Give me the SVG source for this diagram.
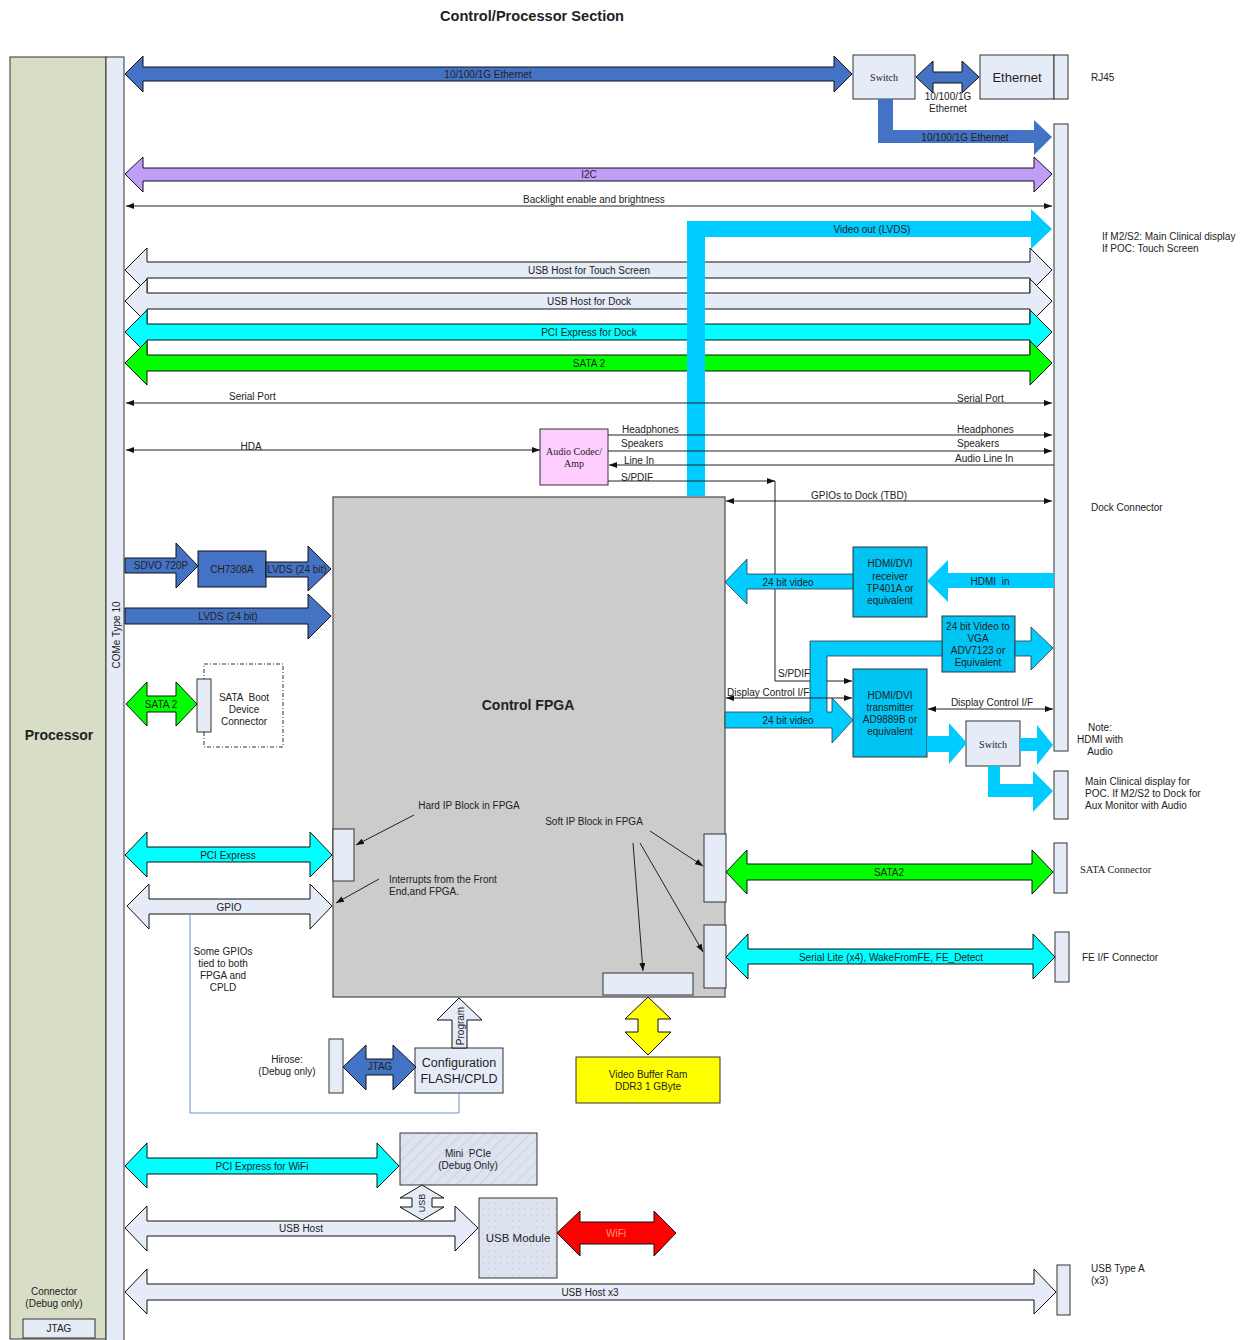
<svg xmlns="http://www.w3.org/2000/svg" width="1248" height="1340" viewBox="0 0 1248 1340" xml:space="preserve">
<defs>
<style>
text{font-family:"Liberation Sans",Arial,sans-serif;font-size:10px;fill:#222;dominant-baseline:central;white-space:pre}
.m{text-anchor:middle}
.s{text-anchor:start}
.b{font-weight:bold;font-size:14px}
.serif{font-family:"Liberation Serif","Times New Roman",serif}
.ln{fill:none;stroke:#222;stroke-width:1}
.blk{stroke:#111;stroke-width:1}
.pale{fill:#e6ecf7}
.blue{fill:#4472c4}
.cyan{fill:#00ffff}
.sky{fill:#00ccff}
.green{fill:#00ff00}
.ol{stroke:#333;stroke-width:0.8}
</style>
<marker id="ah" viewBox="0 0 8 6" refX="8" refY="3" markerWidth="8" markerHeight="6" markerUnits="userSpaceOnUse" orient="auto-start-reverse"><path d="M0,0 L8,3 L0,6 Z" fill="#111"/></marker>
<pattern id="hatch" width="8" height="8" patternUnits="userSpaceOnUse" patternTransform="rotate(45)"><rect width="8" height="8" fill="#dde4f0"/><line x1="0" y1="0" x2="0" y2="8" stroke="#b9c3d6" stroke-width="1"/></pattern>
<pattern id="dots" width="6" height="6" patternUnits="userSpaceOnUse"><rect width="6" height="6" fill="#dde4f0"/><circle cx="3" cy="3" r="0.6" fill="#aab4c8"/></pattern>
</defs>

<text class="m b" x="532" y="16" style="font-size:14.6px">Control/Processor Section</text>

<g id="processor">
<rect x="10" y="57" width="96" height="1282" fill="#d8dec5" stroke="#333" stroke-width="1"/>
<text class="m b" x="59" y="735">Processor</text>
<text class="m" x="54" y="1291">Connector</text>
<text class="m" x="54" y="1303">(Debug only)</text>
<rect x="23" y="1319" width="72" height="19" class="pale" stroke="#333"/>
<text class="m" x="59" y="1328">JTAG</text>
</g>
<g id="come">
<rect x="106" y="57" width="18" height="1290" class="pale" stroke="#333"/>
<text class="m" transform="translate(116,635) rotate(-90)">COMe Type 10</text>
</g>

<g id="fpga">
<rect x="333" y="497" width="392" height="500" fill="#cccccc" stroke="#555" stroke-width="1.3"/>
<text class="m b" x="528" y="705">Control FPGA</text>
<text class="m" x="469" y="805">Hard IP Block in FPGA</text>
<text class="m" x="594" y="821">Soft IP Block in FPGA</text>
<text class="s" x="389" y="879">Interrupts from the Front</text>
<text class="s" x="389" y="891">End,and FPGA.</text>
<rect x="333" y="829" width="21" height="52" class="pale" stroke="#333"/>
<rect x="704" y="834" width="22" height="68" class="pale" stroke="#333"/>
<rect x="704" y="925" width="22" height="63" class="pale" stroke="#333"/>
<rect x="603" y="973" width="90" height="22" class="pale" stroke="#333"/>
</g>

<g id="switch-top">
<rect x="853" y="55" width="62" height="44" class="pale" stroke="#333"/>
<text class="m serif" x="884" y="77">Switch</text>
</g>
<g id="ethernet">
<rect x="980" y="55" width="74" height="44" class="pale" stroke="#333"/>
<rect x="1054" y="55" width="14" height="44" class="pale" stroke="#333"/>
<text class="m" x="1017" y="77" style="font-size:13px">Ethernet</text>
<text class="s" x="1091" y="77">RJ45</text>
</g>
<g id="dock-connector">
<rect x="1054" y="124" width="14" height="627" class="pale" stroke="#333"/>
<text class="s" x="1091" y="507">Dock Connector</text>
<text class="s" x="1102" y="236">If M2/S2: Main Clinical display</text>
<text class="s" x="1102" y="248">If POC: Touch Screen</text>
<text class="m" x="1100" y="727">Note:</text>
<text class="m" x="1100" y="739">HDMI with</text>
<text class="m" x="1100" y="751">Audio</text>
</g>
<g id="aux-connector">
<rect x="1054" y="771" width="14" height="48" class="pale" stroke="#333"/>
<text class="s" x="1085" y="781">Main Clinical display for</text>
<text class="s" x="1085" y="793">POC. If M2/S2 to Dock for</text>
<text class="s" x="1085" y="805">Aux Monitor with Audio</text>
</g>
<g id="sata-connector">
<rect x="1054" y="843" width="13" height="50" class="pale" stroke="#333"/>
<text class="s serif" x="1080" y="869" style="font-size:10.5px">SATA Connector</text>
</g>
<g id="fe-connector">
<rect x="1055" y="932" width="14" height="50" class="pale" stroke="#333"/>
<text class="s" x="1082" y="957">FE I/F Connector</text>
</g>
<g id="usb-typea">
<rect x="1057" y="1265" width="13" height="50" class="pale" stroke="#333"/>
<text class="s" x="1091" y="1268">USB Type A</text>
<text class="s" x="1091" y="1280">(x3)</text>
</g>

<g id="audio-codec">
<rect x="540" y="429" width="68" height="56" fill="#ffccff" stroke="#333"/>
<text class="m serif" x="574" y="451">Audio Codec/</text>
<text class="m serif" x="574" y="463">Amp</text>
</g>
<g id="ch7308a">
<rect x="198" y="551" width="68" height="36" class="blue" stroke="#111"/>
<text class="m" x="232" y="569">CH7308A</text>
</g>
<g id="sata-boot">
<rect x="204" y="664" width="79" height="83" fill="none" stroke="#333" stroke-dasharray="4,2,1,2"/>
<rect x="197" y="679" width="14" height="53" class="pale" stroke="#333"/>
<text class="m" x="244" y="697">SATA  Boot</text>
<text class="m" x="244" y="709">Device</text>
<text class="m" x="244" y="721">Connector</text>
</g>
<g id="hdmi-rx">
<rect x="853" y="547" width="74" height="70" fill="#00c4f4" stroke="#333"/>
<text class="m" x="890" y="563">HDMI/DVI</text>
<text class="m" x="890" y="576">receiver</text>
<text class="m" x="890" y="588">TP401A or</text>
<text class="m" x="890" y="600">equivalent</text>
</g>
<g id="vga">
<rect x="942" y="616" width="73" height="56" fill="#00c4f4" stroke="#333"/>
<text class="m" x="978" y="626">24 bit Video to</text>
<text class="m" x="978" y="638">VGA</text>
<text class="m" x="978" y="650">ADV7123 or</text>
<text class="m" x="978" y="662">Equivalent</text>
</g>
<g id="hdmi-tx">
<rect x="853" y="669" width="74" height="88" fill="#00c4f4" stroke="#333"/>
<text class="m" x="890" y="695">HDMI/DVI</text>
<text class="m" x="890" y="707">transmitter</text>
<text class="m" x="890" y="719">AD9889B or</text>
<text class="m" x="890" y="731">equivalent</text>
</g>
<g id="switch-hdmi">
<rect x="966" y="721" width="54" height="45" class="pale" stroke="#333"/>
<text class="m serif" x="993" y="744">Switch</text>
</g>
<g id="video-ram">
<rect x="576" y="1057" width="144" height="46" fill="#ffff00" stroke="#333"/>
<text class="m" x="648" y="1074">Video Buffer Ram</text>
<text class="m" x="648" y="1086">DDR3 1 GByte</text>
</g>
<g id="config">
<rect x="415" y="1048" width="88" height="45" class="pale" stroke="#333"/>
<text class="m" x="459" y="1063" style="font-size:12.5px">Configuration</text>
<text class="m" x="459" y="1079" style="font-size:12.5px">FLASH/CPLD</text>
</g>
<g id="hirose">
<rect x="329" y="1039" width="14" height="54" class="pale" stroke="#333"/>
<text class="m" x="287" y="1059">Hirose:</text>
<text class="m" x="287" y="1071">(Debug only)</text>
</g>
<g id="mini-pcie">
<rect x="400" y="1133" width="137" height="52" fill="url(#hatch)" stroke="#333"/>
<text class="m" x="468" y="1153">Mini  PCIe</text>
<text class="m" x="468" y="1165">(Debug Only)</text>
</g>
<g id="usb-module">
<rect x="479" y="1198" width="78" height="80" fill="url(#dots)" stroke="#333"/>
<text class="m" x="518" y="1238" style="font-size:11.5px">USB Module</text>
</g>

<g id="connectors">
<path class="blue blk" d="M125,74 L143,56 L143,67 L834,67 L834,56 L852,74 L834,92 L834,81 L143,81 L143,92 Z"/>
<text class="m" x="488" y="74">10/100/1G Ethernet</text>
<path class="blue blk" d="M916,77 L933,61 L933,72 L962,72 L962,61 L979,77 L962,93 L962,83 L933,83 L933,93 Z"/>
<text class="m" x="948" y="96">10/100/1G</text>
<text class="m" x="948" y="108">Ethernet</text>
<path class="blue" d="M878,99 L893,99 L893,130 L1034,130 L1034,120 L1052,137 L1034,155 L1034,143 L878,143 Z"/>
<text class="m" x="965" y="137">10/100/1G Ethernet</text>
<path fill="#c09ef8" class="blk" d="M125,174 L143,157 L143,168 L1034,168 L1034,157 L1052,174 L1034,192 L1034,181 L143,181 L143,192 Z"/>
<text class="m" x="589" y="174">I2C</text>
<line class="ln" x1="126" y1="206" x2="1052" y2="206" marker-start="url(#ah)" marker-end="url(#ah)"/>
<text class="m" x="594" y="199">Backlight enable and brightness</text>
<path class="pale blk" d="M125,270 L147,248 L147,262 L1030,262 L1030,248 L1052,270 L1030,292 L1030,278 L147,278 L147,292 Z"/>
<text class="m" x="589" y="270">USB Host for Touch Screen</text>
<path class="pale blk" d="M125,301 L147,279 L147,293 L1030,293 L1030,279 L1052,301 L1030,323 L1030,309 L147,309 L147,323 Z"/>
<text class="m" x="589" y="301">USB Host for Dock</text>
<path class="cyan blk" d="M125,332 L147,310 L147,324 L1030,324 L1030,310 L1052,332 L1030,354 L1030,340 L147,340 L147,354 Z"/>
<text class="m" x="589" y="332">PCI Express for Dock</text>
<path class="green blk" d="M125,363 L147,341 L147,355 L1030,355 L1030,341 L1052,363 L1030,385 L1030,371 L147,371 L147,385 Z"/>
<text class="m" x="589" y="363">SATA 2</text>
<path class="sky" d="M687,496 L687,221 L1031,221 L1031,209 L1052,229 L1031,249 L1031,237 L705,237 L705,496 Z"/>
<text class="m" x="872" y="229">Video out (LVDS)</text>
<line class="ln" x1="126" y1="403" x2="1052" y2="403" marker-start="url(#ah)" marker-end="url(#ah)"/>
<text class="s" x="229" y="396">Serial Port</text>
<text class="s" x="957" y="398">Serial Port</text>
<line class="ln" x1="126" y1="450" x2="540" y2="450" marker-start="url(#ah)" marker-end="url(#ah)"/>
<text class="m" x="251" y="446">HDA</text>
<line class="ln" x1="608" y1="435" x2="1052" y2="435" marker-end="url(#ah)"/>
<text class="s" x="622" y="429">Headphones</text>
<text class="s" x="957" y="429">Headphones</text>
<line class="ln" x1="608" y1="451" x2="1052" y2="451" marker-end="url(#ah)"/>
<text class="s" x="621" y="443">Speakers</text>
<text class="s" x="957" y="443">Speakers</text>
<line class="ln" x1="1054" y1="465" x2="609" y2="465" marker-end="url(#ah)"/>
<text class="s" x="624" y="460">Line In</text>
<text class="s" x="955" y="458">Audio Line In</text>
<line class="ln" x1="608" y1="481" x2="775" y2="481" marker-end="url(#ah)"/>
<polyline class="ln" points="775,481 775,681 852,681" marker-end="url(#ah)"/>
<text class="s" x="621" y="477">S/PDIF</text>
<text class="s" x="778" y="673">S/PDIF</text>
<line class="ln" x1="726" y1="501" x2="1052" y2="501" marker-start="url(#ah)" marker-end="url(#ah)"/>
<text class="m" x="859" y="495">GPIOs to Dock (TBD)</text>
<path class="blue blk" d="M125,558 L176,558 L176,543 L198,566 L176,588 L176,573 L125,573 Z"/>
<text class="m" x="161" y="565">SDVO 720P</text>
<path class="blue blk" d="M266,562 L308,562 L308,546 L331,569 L308,591 L308,577 L266,577 Z"/>
<text class="m" x="297" y="569">LVDS (24 bit)</text>
<path class="blue blk" d="M125,608 L308,608 L308,594 L331,616 L308,639 L308,624 L125,624 Z"/>
<text class="m" x="228" y="616">LVDS (24 bit)</text>
<path class="green blk" d="M126,704 L147,682 L147,696 L176,696 L176,682 L197,704 L176,726 L176,712 L147,712 L147,726 Z"/>
<text class="m" x="161" y="704">SATA 2</text>
<path class="sky ol" d="M725,582 L747,559 L747,574 L853,574 L853,589 L747,589 L747,604 Z"/>
<text class="m" x="788" y="582">24 bit video</text>
<path class="sky" d="M1054,573 L948,573 L948,560 L927,581 L948,602 L948,588 L1054,588 Z"/>
<text class="m" x="990" y="581">HDMI  in</text>
<path class="sky ol" d="M725,712 L810,712 L810,641 L942,641 L942,656 L827,656 L827,712 L832,712 L832,698 L853,720 L832,743 L832,728 L725,728 Z"/>
<text class="m" x="788" y="720">24 bit video</text>
<path class="sky ol" d="M1015,641 L1031,641 L1031,627 L1053,648 L1031,670 L1031,656 L1015,656 Z"/>
<line class="ln" x1="726" y1="698" x2="852" y2="698" marker-start="url(#ah)" marker-end="url(#ah)"/>
<text class="s" x="727" y="692">Display Control I/F</text>
<line class="ln" x1="928" y1="709" x2="1053" y2="709" marker-start="url(#ah)" marker-end="url(#ah)"/>
<text class="m" x="992" y="702">Display Control I/F</text>
<path class="sky" d="M927,736 L949,736 L949,723 L967,743 L949,764 L949,752 L927,752 Z"/>
<path class="sky" d="M1020,738 L1037,738 L1037,725 L1053,745 L1037,765 L1037,751 L1020,751 Z"/>
<path class="sky" d="M988,766 L1000,766 L1000,784 L1033,784 L1033,771 L1053,791 L1033,812 L1033,797 L988,797 Z"/>
<path class="cyan blk" d="M125,855 L147,832 L147,847 L310,847 L310,832 L332,855 L310,877 L310,862 L147,862 L147,877 Z"/>
<text class="m" x="228" y="855">PCI Express</text>
<path class="pale blk" d="M127,906 L149,884 L149,899 L310,899 L310,884 L332,906 L310,929 L310,914 L149,914 L149,929 Z"/>
<text class="m" x="229" y="907">GPIO</text>
<polyline points="190,915 190,1113 459,1113 459,1093" fill="none" stroke="#6a8fd0" stroke-width="1"/>
<text class="m" x="223" y="951">Some GPIOs</text>
<text class="m" x="223" y="963">tied to both</text>
<text class="m" x="223" y="975">FPGA and</text>
<text class="m" x="223" y="987">CPLD</text>
<line class="ln" x1="414" y1="815" x2="356" y2="845" marker-end="url(#ah)"/>
<line class="ln" x1="379" y1="879" x2="336" y2="903" marker-end="url(#ah)"/>
<line class="ln" x1="650" y1="831" x2="703" y2="866" marker-end="url(#ah)"/>
<line class="ln" x1="640" y1="843" x2="703" y2="952" marker-end="url(#ah)"/>
<line class="ln" x1="633" y1="843" x2="643" y2="971" marker-end="url(#ah)"/>
<path class="green blk" d="M726,872 L747,850 L747,864 L1032,864 L1032,850 L1053,872 L1032,894 L1032,880 L747,880 L747,894 Z"/>
<text class="m" x="889" y="872">SATA2</text>
<path class="cyan blk" d="M726,957 L748,934 L748,949 L1033,949 L1033,934 L1055,957 L1033,979 L1033,964 L748,964 L748,979 Z"/>
<text class="m" x="891" y="957">Serial Lite (x4), WakeFromFE, FE_Detect</text>
<path fill="#ffff00" class="blk" d="M648,997 L671,1019 L658,1019 L658,1032 L671,1032 L648,1055 L625,1032 L638,1032 L638,1019 L625,1019 Z"/>
<path class="pale blk" d="M459,998 L482,1020 L467,1020 L467,1048 L452,1048 L452,1020 L437,1020 Z"/>
<text class="m" transform="translate(460,1026) rotate(-90)">Program</text>
<path class="blue blk" d="M343,1067 L366,1045 L366,1059 L393,1059 L393,1045 L416,1067 L393,1090 L393,1075 L366,1075 L366,1090 Z"/>
<text class="m" x="380" y="1066">JTAG</text>
<path class="cyan blk" d="M125,1166 L147,1143 L147,1158 L377,1158 L377,1143 L399,1166 L377,1188 L377,1174 L147,1174 L147,1188 Z"/>
<text class="m" x="262" y="1166">PCI Express for WiFi</text>
<path class="pale blk" d="M422,1185 L444,1198 L432,1198 L432,1207 L444,1207 L422,1220 L400,1207 L412,1207 L412,1198 L400,1198 Z"/>
<text class="m" transform="translate(422,1203) rotate(-90)" style="font-size:9px">USB</text>
<path class="pale blk" d="M125,1228 L147,1206 L147,1221 L455,1221 L455,1206 L478,1228 L455,1251 L455,1236 L147,1236 L147,1251 Z"/>
<text class="m" x="301" y="1228">USB Host</text>
<path fill="#ff0000" class="blk" d="M557,1233 L580,1211 L580,1222 L654,1222 L654,1211 L676,1233 L654,1256 L654,1244 L580,1244 L580,1256 Z"/>
<text class="m" x="616" y="1233" style="fill:#ff9a66">WiFi</text>
<path class="pale blk" d="M125,1292 L147,1269 L147,1284 L1034,1284 L1034,1269 L1056,1292 L1034,1314 L1034,1300 L147,1300 L147,1314 Z"/>
<text class="m" x="590" y="1292">USB Host x3</text>
</g>
</svg>
